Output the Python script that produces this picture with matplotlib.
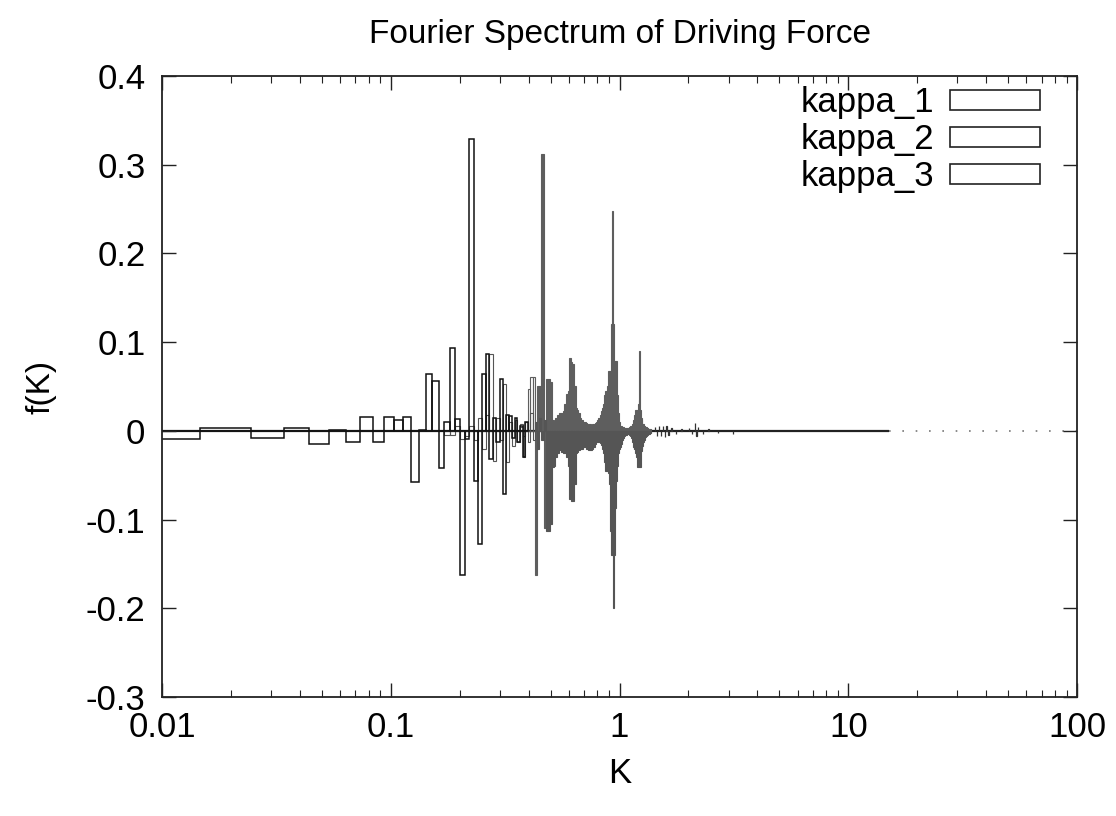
import numpy as np
import matplotlib
matplotlib.use("Agg")
import matplotlib.pyplot as plt
from matplotlib.patches import Rectangle

plt.rcParams['font.family'] = ['Liberation Sans', 'DejaVu Sans']

# spacing of the Fourier modes
dk = 0.0098

# kappa_1: modes 1..40
kappa_1_start = 1
kappa_1 = [-0.009, 0.003, -0.008, 0.003, -0.015, 0.001, -0.012, 0.016, -0.013, 0.016,
           0.012, 0.016, -0.058, 0.001, 0.064, 0.056, -0.042, 0.010, 0.093, 0.013,
           -0.163, -0.009, 0.329, -0.056, -0.127, 0.064, 0.087, -0.032, 0.015, -0.012,
           0.059, -0.071, 0.018, 0.017, -0.008, 0.014, -0.012, 0.006, -0.030, 0.010]

# kappa_2: modes 18..140
kappa_2_start = 18
kappa_2 = [-0.005, -0.005, 0.006, -0.009, -0.006, 0.005, -0.010, 0.015, -0.020, 0.018,   # 18-27
           0.087, -0.034, 0.015, -0.010, 0.053, -0.035, 0.010, -0.017, 0.012, -0.012,    # 28-37
           0.008, -0.030, 0.010, -0.012, 0.020, -0.010, 0.010, -0.020, 0.015, -0.010,    # 38-47
           0.012, -0.113, -0.113, -0.105, -0.041, -0.040, -0.030, -0.025, -0.022, -0.024,  # 48-57
           -0.025, -0.025, -0.030, -0.040, -0.077, -0.079, -0.079, -0.060, -0.025, -0.024,  # 58-67
           -0.022, -0.020, -0.020, -0.018, -0.018, -0.020, -0.021, -0.022, -0.022, -0.022,  # 68-77
           -0.020, -0.018, -0.015, -0.013, -0.012, -0.012, -0.014, -0.016, -0.020, -0.025,  # 78-87
           -0.035, -0.045, -0.045, -0.048, -0.060, -0.113, -0.140, -0.140, -0.200, -0.140,  # 88-97
           -0.087, -0.056, -0.040, -0.025, -0.020, -0.018, -0.015, -0.010, -0.008, -0.006,  # 98-107
           -0.005, -0.005, -0.004, -0.004, -0.004, -0.005, -0.006, -0.008, -0.012, -0.018,  # 108-117
           -0.020, -0.020, -0.025, -0.030, -0.041, -0.041, -0.041, -0.041, -0.041, -0.023,  # 118-127
           -0.020, -0.017, -0.012, -0.010, -0.008, -0.007, -0.006, -0.005, -0.004, -0.004,  # 128-137
           -0.003, -0.002, -0.002]                                                          # 138-140

# kappa_3: modes 38..140, then a few small ones further out
kappa_3_start = 38
kappa_3 = [0.004, -0.006, 0.010, 0.047, 0.061, 0.061, -0.163, 0.051, 0.051, 0.312,   # 38-47
           -0.110, 0.058, 0.058, 0.055, 0.012, 0.010, 0.015, 0.018, 0.020, 0.020,     # 48-57
           0.022, 0.030, 0.042, 0.045, 0.082, 0.078, 0.075, 0.050, 0.026, 0.024,      # 58-67
           0.020, 0.015, 0.012, 0.010, 0.010, 0.009, 0.008, 0.008, 0.008, 0.007,      # 68-77
           0.008, 0.008, 0.009, 0.010, 0.012, 0.015, 0.018, 0.022, 0.026, 0.030,      # 78-87
           0.040, 0.045, 0.050, 0.068, 0.068, 0.068, 0.120, 0.248, 0.120, 0.079,      # 88-97
           0.079, 0.079, 0.040, 0.020, 0.010, 0.006, 0.005, 0.004, 0.004, 0.003,      # 98-107
           0.003, 0.003, 0.003, 0.003, 0.003, 0.004, 0.005, 0.006, 0.008, 0.012,      # 108-117
           0.012, 0.018, 0.024, 0.024, 0.024, 0.030, 0.035, 0.090, 0.024, 0.015,      # 118-127
           0.012, 0.008, 0.008, 0.006, 0.005, 0.004, 0.004, 0.003, 0.003, 0.002,      # 128-137
           0.002, 0.002, 0.002]                                                       # 138-140
kappa_3_tail_n = [146, 149, 152, 155, 158, 161, 164, 167, 172, 180, 190,
                  205, 212, 218, 221, 225, 236, 250, 275, 320]
kappa_3_tail = [0.004, -0.006, 0.005, -0.006, 0.006, -0.007, 0.006, -0.005, 0.003, -0.003, 0.002,
                0.003, -0.004, 0.009, -0.006, 0.004, -0.003, 0.002, -0.002, -0.003]

k_solid_end = 15.0   # zero boxes merge into a solid line up to here
k_max = 100.0
k_dense = 0.425      # above this the boxes are ~1-2 px wide and print as a solid mass

x_ticks = [0.01, 0.1, 1, 10, 100]
x_tick_labels = ['0.01', '0.1', '1', '10', '100']
y_ticks = [-0.3, -0.2, -0.1, 0.0, 0.1, 0.2, 0.3, 0.4]
y_tick_labels = ['-0.3', '-0.2', '-0.1', '0', '0.1', '0.2', '0.3', '0.4']


def boxes(ax, n, f, color, lw):
    n = np.asarray(n, dtype=float)
    k = n * dk
    faces = [color if kk > k_dense else 'none' for kk in k]
    ax.bar((n - 0.5) * dk, f, width=dk, align='edge', facecolor=faces,
           edgecolor=color, linewidth=lw)


fig = plt.figure(figsize=(11.16, 8.16), dpi=100)
ax = fig.add_axes([0.1452, 0.1458, 0.8199, 0.7611])
ax.set_xscale('log')

# zero-height boxes show up as a line on the axis
ax.hlines(0, 0.5 * dk, k_solid_end, color='#222222', linewidth=1.6, zorder=1)
ax.hlines(0, k_solid_end, k_max, color='#777777', linewidth=1.2,
          linestyles=(0, (1, 7)), zorder=1)

n3 = np.arange(kappa_3_start, kappa_3_start + len(kappa_3))
boxes(ax, n3, kappa_3, '#5e5e5e', 0.8)
boxes(ax, kappa_3_tail_n, kappa_3_tail, '#333333', 0.9)
n2 = np.arange(kappa_2_start, kappa_2_start + len(kappa_2))
boxes(ax, n2, kappa_2, '#555555', 0.8)
n1 = np.arange(kappa_1_start, kappa_1_start + len(kappa_1))
boxes(ax, n1, kappa_1, '#111111', 1.1)

ax.set_xlim(0.01, 100)
ax.set_ylim(-0.3, 0.4)
ax.set_xticks(x_ticks)
ax.set_xticklabels(x_tick_labels)
ax.set_yticks(y_ticks)
ax.set_yticklabels(y_tick_labels)
ax.tick_params(which='both', direction='in', top=True, right=True,
               labelsize=25, color='#222222')
ax.tick_params(which='major', length=10, width=1.0)
ax.tick_params(which='minor', length=5, width=0.8)
ax.tick_params(axis='x', pad=10)
ax.tick_params(axis='y', pad=12)
for s in ax.spines.values():
    s.set_linewidth(1.3)
    s.set_color('#222222')

ax.set_title('Fourier Spectrum of Driving Force', fontsize=24, pad=24)
ax.set_xlabel('K', fontsize=25)
ax.set_ylabel('f(K)', fontsize=24)
ax.xaxis.set_label_coords(0.5, -0.097)
ax.yaxis.set_label_coords(-0.115, 0.5)

handles = [Rectangle((0, 0), 1, 1, fill=False, edgecolor='#222222', linewidth=1.2)
           for _ in range(3)]
ax.legend(handles, ['kappa_1', 'kappa_2', 'kappa_3'], loc='upper right',
          bbox_to_anchor=(1040 / 1116, 1 - 86 / 816), bbox_transform=fig.transFigure,
          frameon=False, markerfirst=False, fontsize=25, handlelength=2.6,
          handleheight=0.5, labelspacing=0.12, handletextpad=0.45,
          borderaxespad=0.0, borderpad=0.0)

fig.savefig('out.png', dpi=100)
